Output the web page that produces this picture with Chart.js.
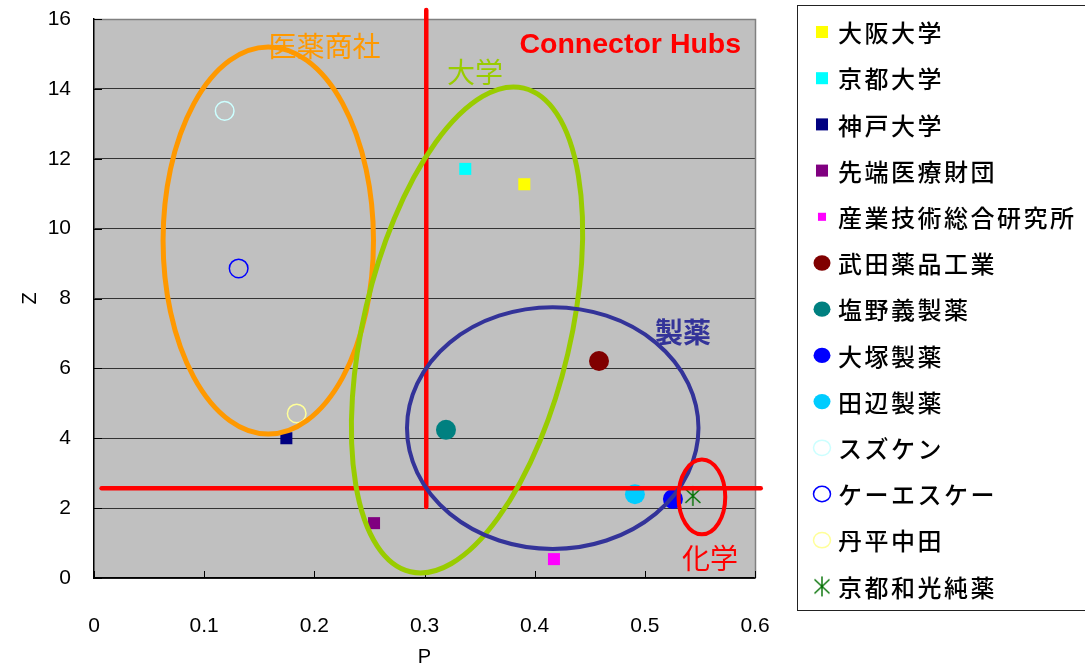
<!DOCTYPE html>
<html>
<head>
<meta charset="utf-8">
<title>P-Z chart</title>
<script src="https://cdn.jsdelivr.net/npm/chart.js@4.4.0/dist/chart.umd.min.js"></script>
<style>
  html, body { margin: 0; padding: 0; background: #fff; }
</style>
</head>
<body>
<canvas id="pzChart" width="1085" height="671"></canvas>
<script>
// --- data ---
const companyNames = ['大阪大学', '京都大学', '神戸大学', '先端医療財団', '産業技術総合研究所',
    '武田薬品工業', '塩野義製薬', '大塚製薬', '田辺製薬', 'スズケン', 'ケーエスケー', '丹平中田', '京都和光純薬'];
const pValues = [0.3906, 0.337, 0.1746, 0.2542, 0.4175, 0.4584, 0.3195, 0.5255, 0.491, 0.1186, 0.1313, 0.184, 0.5436];
const zValues = [11.27, 11.71, 4.0, 1.57, 0.54, 6.21, 4.24, 2.26, 2.4, 13.37, 8.86, 4.71, 2.35];

const xTicks = [0, 0.1, 0.2, 0.3, 0.4, 0.5, 0.6];
const yTicks = [0, 2, 4, 6, 8, 10, 12, 14, 16];

// connector hub threshold lines (P and Z)
const hubP = 0.3016;
const hubPRangeZ = [2.03, 16.26];
const hubZ = 2.57;
const hubZRangeP = [0.0069, 0.6052];

// group ellipses: center and radii in data units, tilt in radians
const groupNames = ['医薬商社', '大学', '製薬', '化学'];
const groupCenterP = [0.1582, 0.3386, 0.4164, 0.5518];
const groupCenterZ = [9.66, 7.10, 4.29, 2.32];
const groupRadiusP = [0.0955, 0.094, 0.1323, 0.0212];
const groupRadiusZ = [5.54, 7.11, 3.46, 1.07];
const groupTilt = [0, 0.23, 0, 0];
const groupLabelP = [0.2093, 0.3458, 0.5346, 0.5591];
const groupLabelZ = [15.23, 14.47, 7.04, 0.57];

// --- styles ---
function makeAsterisk(color) {
    const c = document.createElement('canvas');
    c.width = 18; c.height = 22;
    const g = c.getContext('2d');
    g.strokeStyle = color;
    g.lineWidth = 1.4;
    g.beginPath();
    g.moveTo(9, 1); g.lineTo(9, 21);
    g.moveTo(1.5, 4); g.lineTo(16.5, 18);
    g.moveTo(16.5, 4); g.lineTo(1.5, 18);
    g.stroke();
    return c;
}

const markerShapes = ['rect', 'rect', 'rect', 'rect', 'rect', 'circle', 'circle', 'circle', 'circle',
    'circle', 'circle', 'circle', makeAsterisk('#007000')];
const markerFill = ['#FFFF00', '#00FFFF', '#000080', '#800080', '#FF00FF', '#800000', '#008080', '#0000FF', '#00CCFF',
    'rgba(0,0,0,0)', 'rgba(0,0,0,0)', 'rgba(0,0,0,0)', '#008000'];
const markerStroke = ['#FFFF00', '#00FFFF', '#000080', '#800080', '#FF00FF', '#800000', '#008080', '#0000FF', '#00CCFF',
    '#CCFFFF', '#0000FF', '#FFFF99', '#008000'];
const markerRadius = [8.5, 8.5, 8.5, 8.5, 8.5, 10, 10, 10, 10, 9.3, 9.3, 9.3, 10];
const markerBorder = [0, 0, 0, 0, 0, 0, 0, 0, 0, 1.5, 1.5, 1.5, 0];
const legendRadius = [8.5, 8.5, 8.5, 8.5, 5.7, 8.5, 8.5, 8.5, 8.5, 8.5, 8.5, 8.5, 9];

const groupColors = ['#FF9900', '#99CC00', '#333399', '#FF0000'];
const groupWidths = [5, 5, 4, 4];
const groupLabelWeight = ['normal', 'normal', 'bold', 'normal'];

const jpFont = '"Noto Sans CJK JP", "Noto Sans", sans-serif';
const numFont = '"Liberation Sans", Arial, sans-serif';

// --- datasets ---
const datasets = companyNames.map((name, i) => ({
    label: name,
    data: [{ x: pValues[i], y: zValues[i] }],
    pointStyle: markerShapes[i],
    pointRadius: markerRadius[i],
    pointHoverRadius: markerRadius[i],
    pointBackgroundColor: markerFill[i],
    pointBorderColor: markerStroke[i],
    pointBorderWidth: markerBorder[i],
    showLine: false,
    order: 2
}));

datasets.push({
    label: 'hubP',
    data: [{ x: hubP, y: hubPRangeZ[0] }, { x: hubP, y: hubPRangeZ[1] }],
    showLine: true,
    borderColor: '#FF0000',
    borderWidth: 4.5,
    borderCapStyle: 'round',
    pointRadius: 0,
    clip: false,
    order: 1
});
datasets.push({
    label: 'hubZ',
    data: [{ x: hubZRangeP[0], y: hubZ }, { x: hubZRangeP[1], y: hubZ }],
    showLine: true,
    borderColor: '#FF0000',
    borderWidth: 4.5,
    borderCapStyle: 'round',
    pointRadius: 0,
    clip: false,
    order: 1
});

// plot background, frame and inward tick marks
const plotFrame = {
    id: 'plotFrame',
    beforeDraw(chart) {
        const { ctx, chartArea: a } = chart;
        ctx.save();
        ctx.fillStyle = '#C0C0C0';
        ctx.fillRect(a.left, a.top, a.right - a.left, a.bottom - a.top);
        ctx.restore();
    },
    beforeDatasetsDraw(chart) {
        const { ctx, chartArea: a, scales } = chart;
        ctx.save();
        ctx.strokeStyle = '#808080';
        ctx.lineWidth = 1.5;
        ctx.beginPath();
        ctx.moveTo(a.left, a.top + 0.5);
        ctx.lineTo(a.right + 0.5, a.top + 0.5);
        ctx.lineTo(a.right + 0.5, a.bottom);
        ctx.stroke();
        ctx.strokeStyle = '#000';
        ctx.lineWidth = 1;
        ctx.beginPath();
        xTicks.forEach(v => {
            const x = Math.round(scales.x.getPixelForValue(v)) + 0.5;
            ctx.moveTo(x, a.bottom);
            ctx.lineTo(x, a.bottom - 7);
        });
        yTicks.forEach(v => {
            const y = Math.round(scales.y.getPixelForValue(v)) + 0.5;
            ctx.moveTo(a.left, y);
            ctx.lineTo(a.left + 8, y);
        });
        ctx.stroke();
        ctx.restore();
    }
};

// group ellipses and their labels
const groupMarks = {
    id: 'groupMarks',
    afterDatasetsDraw(chart) {
        const { ctx, scales } = chart;
        const pxP = Math.abs(scales.x.getPixelForValue(1) - scales.x.getPixelForValue(0));
        const pxZ = Math.abs(scales.y.getPixelForValue(1) - scales.y.getPixelForValue(0));
        ctx.save();
        groupNames.forEach((name, i) => {
            ctx.beginPath();
            ctx.ellipse(
                scales.x.getPixelForValue(groupCenterP[i]),
                scales.y.getPixelForValue(groupCenterZ[i]),
                groupRadiusP[i] * pxP, groupRadiusZ[i] * pxZ,
                groupTilt[i], 0, Math.PI * 2);
            ctx.strokeStyle = groupColors[i];
            ctx.lineWidth = groupWidths[i];
            ctx.stroke();

            ctx.fillStyle = groupColors[i];
            ctx.font = groupLabelWeight[i] + ' 28px ' + jpFont;
            ctx.textAlign = 'center';
            ctx.textBaseline = 'middle';
            ctx.fillText(name, scales.x.getPixelForValue(groupLabelP[i]), scales.y.getPixelForValue(groupLabelZ[i]));
        });
        ctx.fillStyle = '#FF0000';
        ctx.font = 'bold 28.5px ' + numFont;
        ctx.textAlign = 'center';
        ctx.textBaseline = 'middle';
        ctx.fillText('Connector Hubs', scales.x.getPixelForValue(0.4868), scales.y.getPixelForValue(15.25));
        ctx.restore();
    }
};

// boxed legend on the right
const boxLegend = {
    id: 'boxLegend',
    afterDraw(chart) {
        const { ctx } = chart;
        ctx.save();
        ctx.fillStyle = '#fff';
        ctx.fillRect(797, 5, 300, 606);
        ctx.strokeStyle = '#222';
        ctx.lineWidth = 1;
        ctx.strokeRect(797.5, 5.5, 300, 605);
        companyNames.forEach((name, i) => {
            const y = 32 + i * 46.2;
            const x = 822;
            const r = legendRadius[i];
            const shape = markerShapes[i];
            ctx.fillStyle = markerFill[i];
            ctx.strokeStyle = markerStroke[i];
            ctx.lineWidth = markerBorder[i] || 1;
            if (shape === 'rect') {
                const s = r * Math.SQRT1_2;
                ctx.fillRect(x - s, y - s, s * 2, s * 2);
            } else if (shape === 'circle') {
                ctx.beginPath();
                ctx.ellipse(x, y, r, r * 0.9, 0, 0, Math.PI * 2);
                if (markerBorder[i] > 0) ctx.stroke(); else ctx.fill();
            } else {
                ctx.drawImage(shape, x - shape.width / 2, y - shape.height / 2);
            }
            ctx.fillStyle = '#000';
            ctx.font = '500 24px ' + jpFont;
            ctx.letterSpacing = '2.5px';
            ctx.textAlign = 'left';
            ctx.textBaseline = 'middle';
            ctx.fillText(name, 838, y + 1);
            ctx.letterSpacing = '0px';
        });
        ctx.restore();
    }
};

const pzChart = new Chart(document.getElementById('pzChart'), {
    type: 'scatter',
    data: { datasets: datasets },
    options: {
        responsive: false,
        animation: false,
        events: [],
        layout: { autoPadding: false, padding: { top: 19, right: 330, left: 0, bottom: 0 } },
        plugins: {
            legend: { display: false },
            tooltip: { enabled: false }
        },
        scales: {
            x: {
                type: 'linear',
                min: 0,
                max: 0.6,
                afterFit: scale => { scale.height = 93; },
                afterBuildTicks: scale => { scale.ticks = xTicks.map(v => ({ value: v })); },
                grid: { display: false },
                border: { display: true, color: '#000', width: 1.5 },
                ticks: {
                    color: '#000',
                    padding: 28,
                    font: { family: numFont, size: 21 },
                    callback: v => (v === 0 ? '0' : v.toFixed(1))
                },
                title: {
                    display: true,
                    text: 'P',
                    color: '#000',
                    font: { family: numFont, size: 20 },
                    padding: { top: 0, bottom: 2 }
                }
            },
            y: {
                type: 'linear',
                min: 0,
                max: 16,
                afterFit: scale => { scale.width = 94; },
                afterBuildTicks: scale => { scale.ticks = yTicks.map(v => ({ value: v })); },
                // tick marks kept invisible: their length only pushes the labels left
                grid: { color: '#333', lineWidth: 1, drawTicks: true, tickLength: 20, tickColor: 'rgba(0,0,0,0)' },
                border: { display: true, color: '#000', width: 1.5 },
                ticks: {
                    color: '#000',
                    padding: 3,
                    font: { family: numFont, size: 21 }
                },
                title: {
                    display: true,
                    text: 'Z',
                    color: '#000',
                    font: { family: numFont, size: 20 },
                    padding: { top: 18, bottom: 0 }
                }
            }
        }
    },
    plugins: [plotFrame, groupMarks, boxLegend]
});
</script>
</body>
</html>
